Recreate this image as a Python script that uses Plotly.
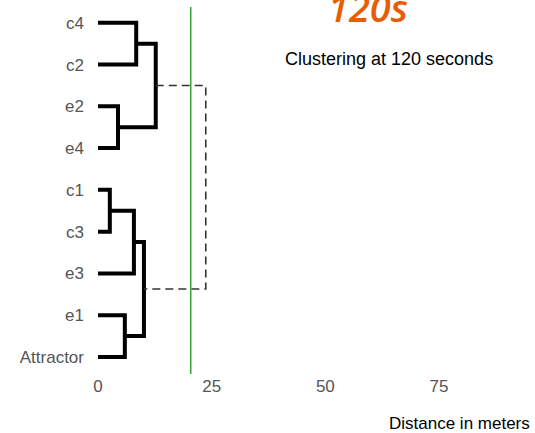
import plotly.graph_objects as go

# Leaves, top to bottom
leaves = ["c4", "c2", "e2", "e4", "c1", "c3", "e3", "e1", "Attractor"]
# Merges: (left member, right member, merge distance in meters)
merge_left = ["c4", "e2", "m0", "c1", "m3", "e1", "m4", "m2"]
merge_right = ["c2", "e4", "m1", "c3", "e3", "Attractor", "m5", "m6"]
merge_dist = [8.4, 4.4, 12.7, 2.6, 7.9, 5.9, 10.1, 23.7]
merge_dashed = [False, False, False, False, False, False, False, True]
threshold = 20.4
x_ticks = [0, 25, 50, 75]

n = len(leaves)
pos = {name: (0.0, float(n - 1 - i)) for i, name in enumerate(leaves)}

fig = go.Figure()
for k, (a, b, h, d) in enumerate(zip(merge_left, merge_right, merge_dist, merge_dashed)):
    xa, ya = pos[a]
    xb, yb = pos[b]
    if d:
        line = dict(color="#333333", width=1.6, dash="8px,5px")
    else:
        line = dict(color="black", width=4)
    fig.add_trace(go.Scatter(x=[xa, h, h, xb], y=[ya, ya, yb, yb], mode="lines",
                             line=line, hoverinfo="skip", showlegend=False))
    pos["m%d" % k] = (h, (ya + yb) / 2)

fig.add_shape(type="line", x0=threshold, x1=threshold, y0=0, y1=1, yref="paper",
              line=dict(color="#3aa53a", width=1.5))

fig.add_annotation(text="120s", xref="paper", yref="paper", x=0.624, y=1.0,
                   xanchor="center", yanchor="middle", showarrow=False,
                   font=dict(family="Open Sans", size=38, color="#e85d04", weight=600,
                             style="italic"))
fig.add_annotation(text="Clustering at 120 seconds", xref="paper", yref="paper",
                   x=0.6725, y=0.858, xanchor="center", yanchor="middle", showarrow=False,
                   font=dict(family="Liberation Sans, Arial", size=18, color="black"))
fig.add_annotation(text="Distance in meters", xref="paper", yref="paper",
                   x=1.005, xanchor="right", y=-0.136, yanchor="middle", showarrow=False,
                   font=dict(family="Liberation Sans, Arial", size=17, color="black"))

fig.update_layout(
    width=535, height=433,
    margin=dict(l=98, r=5, t=7, b=59),
    plot_bgcolor="white", paper_bgcolor="white",
    xaxis=dict(range=[0, 95], tickvals=x_ticks, showgrid=False, zeroline=False,
               showline=False, ticks="", tickfont=dict(family="Liberation Sans, Arial",
               size=17, color="#555555")),
    yaxis=dict(range=[-0.41, 8.38], tickvals=[n - 1 - i for i in range(n)], ticktext=leaves,
               showgrid=False, zeroline=False, showline=False, ticks="",
               ticklabelstandoff=13,
               tickfont=dict(family="Liberation Sans, Arial", size=17, color="#555555")),
)
fig.write_html("out.html")
